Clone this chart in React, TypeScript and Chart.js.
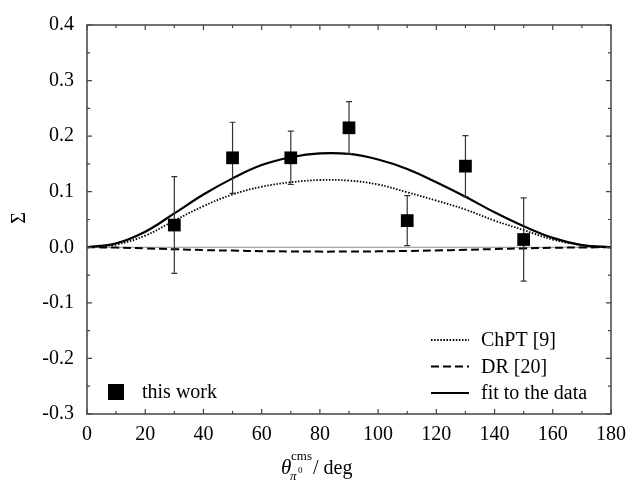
import { useEffect, useRef } from "react";
import { Chart, registerables } from "chart.js";

Chart.register(...registerables);

// ---- data ----
const angles = [0, 10, 20, 30, 40, 50, 60, 70, 80, 90, 100, 110, 120, 130, 140, 150, 160, 170, 180];
const fitCurve = [0, 0.007, 0.028, 0.061, 0.095, 0.124, 0.148, 0.162, 0.169, 0.168, 0.158, 0.141, 0.117, 0.091, 0.063, 0.038, 0.017, 0.004, 0];
const chptCurve = [0, 0.005, 0.021, 0.048, 0.074, 0.095, 0.109, 0.117, 0.121, 0.12, 0.113, 0.099, 0.084, 0.068, 0.048, 0.031, 0.014, 0.004, 0];
const drCurve = [0, -0.0005, -0.002, -0.0035, -0.005, -0.006, -0.007, -0.0075, -0.0078, -0.0077, -0.0073, -0.0066, -0.0057, -0.0045, -0.0032, -0.002, -0.001, -0.0003, 0];

const dataAngles = [30, 50, 70, 90, 110, 130, 150];
const dataSigma = [0.04, 0.161, 0.161, 0.215, 0.048, 0.146, 0.014];
const dataError = [0.087, 0.064, 0.048, 0.047, 0.045, 0.055, 0.075];

const curveLabels = ["ChPT [9]", "DR [20]", "fit to the data"];
const dataLabel = "this work";

const xMin = 0, xMax = 180, xStep = 20;
const yMin = -0.3, yMax = 0.4, yStep = 0.1;

const FONT = '"Liberation Serif", "Times New Roman", serif';
const DOTTED = [1.5, 1.6];
const DASHED = [8, 4];

const decor = {
  id: "decor",
  beforeDatasetsDraw(chart: any) {
    const { ctx, chartArea: a, scales } = chart;
    const y0 = scales.y.getPixelForValue(0);
    ctx.save();
    ctx.strokeStyle = "#909090";
    ctx.lineWidth = 1;
    ctx.beginPath();
    ctx.moveTo(a.left, y0);
    ctx.lineTo(a.right, y0);
    ctx.stroke();
    ctx.restore();
  },
  beforeDatasetDraw(chart: any, args: any) {
    if (args.index !== 3) return;
    const { ctx, scales } = chart;
    ctx.save();
    ctx.strokeStyle = "#333";
    ctx.lineWidth = 1.2;
    dataAngles.forEach((ang, i) => {
      const px = scales.x.getPixelForValue(ang);
      const top = scales.y.getPixelForValue(dataSigma[i] + dataError[i]);
      const bot = scales.y.getPixelForValue(dataSigma[i] - dataError[i]);
      ctx.beginPath();
      ctx.moveTo(px, top);
      ctx.lineTo(px, bot);
      ctx.moveTo(px - 3, top);
      ctx.lineTo(px + 3, top);
      ctx.moveTo(px - 3, bot);
      ctx.lineTo(px + 3, bot);
      ctx.stroke();
    });
    ctx.restore();
  },
  afterDraw(chart: any) {
    const { ctx, chartArea: a, scales } = chart;
    const xs = scales.x, ys = scales.y;
    ctx.save();
    // frame
    ctx.strokeStyle = "#444";
    ctx.lineWidth = 1.5;
    ctx.strokeRect(a.left, a.top, a.right - a.left, a.bottom - a.top);
    // inward ticks
    ctx.lineWidth = 1.2;
    ctx.beginPath();
    for (let v = xMin; v <= xMax + 1e-9; v += xStep / 2) {
      const px = xs.getPixelForValue(v);
      const major = Math.abs(v / xStep - Math.round(v / xStep)) < 1e-6;
      const len = major ? 5 : 3;
      ctx.moveTo(px, a.bottom);
      ctx.lineTo(px, a.bottom - len);
      ctx.moveTo(px, a.top);
      ctx.lineTo(px, a.top + len);
    }
    for (let k = 0; k <= Math.round((yMax - yMin) / (yStep / 2)); k++) {
      const v = yMin + k * (yStep / 2);
      const py = ys.getPixelForValue(v);
      const len = k % 2 === 0 ? 5 : 3;
      ctx.moveTo(a.left, py);
      ctx.lineTo(a.left + len, py);
      ctx.moveTo(a.right, py);
      ctx.lineTo(a.right - len, py);
    }
    ctx.stroke();

    // y title (Sigma, rotated)
    ctx.fillStyle = "#000";
    ctx.save();
    ctx.translate(20, 218);
    ctx.rotate(-Math.PI / 2);
    ctx.font = `20px ${FONT}`;
    ctx.textAlign = "center";
    ctx.textBaseline = "middle";
    ctx.fillText("Σ", 0, 0);
    ctx.restore();

    // x title
    ctx.textAlign = "left";
    ctx.textBaseline = "alphabetic";
    const base = 474;
    ctx.font = `italic 21px ${FONT}`;
    ctx.fillText("θ", 281, base);
    ctx.font = `13px ${FONT}`;
    ctx.fillText("cms", 291, base - 14);
    ctx.font = `italic 13px ${FONT}`;
    ctx.fillText("π", 290, base + 6);
    ctx.font = `9px ${FONT}`;
    ctx.fillText("0", 298, base - 1);
    ctx.font = `20px ${FONT}`;
    ctx.fillText("/ deg", 313, base);

    // curve legend
    const styles = [
      { dash: DOTTED, w: 1.8 },
      { dash: DASHED, w: 2 },
      { dash: [], w: 2.2 },
    ];
    const rows = [340, 366.5, 393];
    ctx.font = `20px ${FONT}`;
    ctx.textBaseline = "middle";
    curveLabels.forEach((lab, i) => {
      ctx.strokeStyle = "#000";
      ctx.lineWidth = styles[i].w;
      ctx.setLineDash(styles[i].dash);
      ctx.beginPath();
      ctx.moveTo(431, rows[i]);
      ctx.lineTo(469, rows[i]);
      ctx.stroke();
      ctx.setLineDash([]);
      ctx.fillText(lab, 481, rows[i] + 1);
    });
    // data legend
    ctx.fillRect(108, 384, 16, 16);
    ctx.fillText(dataLabel, 142, 393);
    ctx.restore();
  },
};

export default function App() {
  const ref = useRef<HTMLCanvasElement | null>(null);
  useEffect(() => {
    if (!ref.current) return;
    const curve = (vals: number[]) => angles.map((a, i) => ({ x: a, y: vals[i] }));
    const chart = new Chart(ref.current, {
      type: "line",
      data: {
        datasets: [
          {
            label: curveLabels[2],
            data: curve(fitCurve),
            borderColor: "#000",
            borderWidth: 2.2,
            pointRadius: 0,
            tension: 0.4,
            order: 1,
          },
          {
            label: curveLabels[0],
            data: curve(chptCurve),
            borderColor: "#000",
            borderWidth: 1.8,
            borderDash: DOTTED,
            pointRadius: 0,
            tension: 0.4,
            order: 1,
          },
          {
            label: curveLabels[1],
            data: curve(drCurve),
            borderColor: "#000",
            borderWidth: 2,
            borderDash: DASHED,
            pointRadius: 0,
            tension: 0.4,
            order: 1,
          },
          {
            label: dataLabel,
            data: dataAngles.map((a, i) => ({ x: a, y: dataSigma[i] })),
            showLine: false,
            pointStyle: "rect",
            pointRadius: 9,
            pointBackgroundColor: "#000",
            pointBorderColor: "#000",
            pointBorderWidth: 0,
            order: 0,
          },
        ],
      } as any,
      options: {
        animation: false,
        responsive: false,
        devicePixelRatio: 1,
        layout: { padding: { top: 19, right: 21, left: 0, bottom: 0 } },
        plugins: { legend: { display: false }, tooltip: { enabled: false } },
        scales: {
          x: {
            type: "linear",
            min: xMin,
            max: xMax,
            grid: { display: false, drawTicks: false },
            border: { display: false },
            ticks: {
              stepSize: xStep,
              padding: 9,
              color: "#000",
              font: { family: FONT, size: 20 },
              maxRotation: 0,
            },
            afterFit: (s: any) => {
              s.height = 69;
            },
          },
          y: {
            type: "linear",
            min: yMin,
            max: yMax,
            grid: { display: false, drawTicks: false },
            border: { display: false },
            ticks: {
              stepSize: yStep,
              padding: 13,
              color: "#000",
              font: { family: FONT, size: 20 },
              callback: (v: any) => Number(v).toFixed(1),
            },
            afterFit: (s: any) => {
              s.width = 87;
            },
          },
        },
      } as any,
      plugins: [decor],
    });
    return () => chart.destroy();
  }, []);
  return (
    <div style={{ position: "fixed", left: 0, top: 0, width: 635, height: 483, background: "#fff" }}>
      <canvas ref={ref} width={635} height={483} />
    </div>
  );
}
